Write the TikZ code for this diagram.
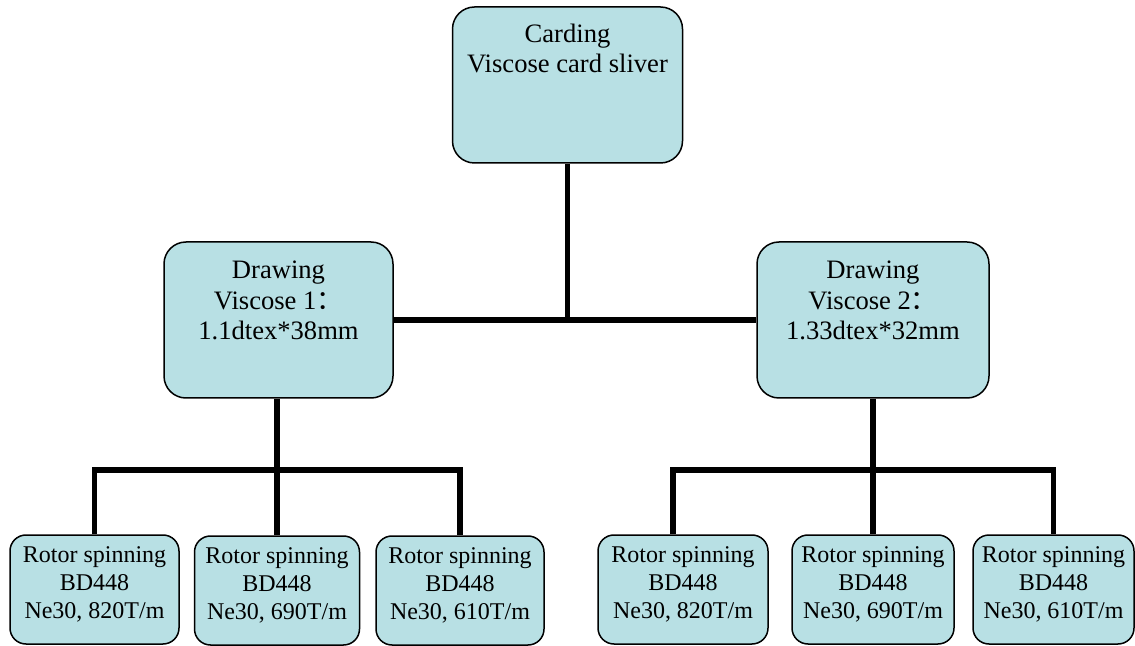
\documentclass[tikz,border=0pt]{standalone}
\usepackage{fontspec}
\setmainfont{Liberation Serif}
\newfontfamily\cjk{Noto Sans CJK SC}
\definecolor{stagefill}{RGB}{184,224,228}
\tikzset{
    stage/.style={draw,line width=0.75pt,fill=stagefill,rounded corners=11pt,align=center,
        inner xsep=2pt,inner ysep=0pt,font=\fontsize{13.3}{15.3}\selectfont,
        text height=49pt,text depth=29pt,minimum width=115pt},
    spin/.style={draw,line width=0.75pt,fill=stagefill,rounded corners=8pt,align=center,
        inner xsep=2pt,inner ysep=0pt,font=\fontsize{12}{13.8}\selectfont,
        text height=41.5pt,text depth=13pt},
    link/.style={line width=2.7pt}
}
\begin{document}
\begin{tikzpicture}[x=0.5pt,y=-0.5pt]
        \useasboundingbox (0,0) rectangle (1135,646);

        \node[stage,text height=33pt,text depth=45pt] (card) at (567.5,85) {Carding\\Viscose card sliver};
        \node[stage,minimum width=114.5pt] (d1) at (278.5,320) {Drawing\\Viscose 1{\cjk ：}\\1.1dtex*38mm};
        \node[stage,minimum width=116pt] (d2) at (873,320) {Drawing\\Viscose 2{\cjk ：}\\1.33dtex*32mm};

        \node[spin,minimum width=84.5pt] (s1) at (94.5,589.5) {Rotor spinning\\BD448\\Ne30, 820T/m};
        \node[spin,minimum width=82.5pt] (s2) at (277,590.5) {Rotor spinning\\BD448\\Ne30, 690T/m};
        \node[spin,minimum width=84pt] (s3) at (460,590.5) {Rotor spinning\\BD448\\Ne30, 610T/m};
        \node[spin,minimum width=85pt] (s4) at (683,589.5) {Rotor spinning\\BD448\\Ne30, 820T/m};
        \node[spin,minimum width=81pt] (s5) at (873,589.5) {Rotor spinning\\BD448\\Ne30, 690T/m};
        \node[spin,minimum width=80.5pt] (s6) at (1053.5,589.5) {Rotor spinning\\BD448\\Ne30, 610T/m};

        \coordinate (b1) at (277,470);
        \coordinate (b2) at (873,470);

        \draw[link] (card.south) -- (card.south |- d1.east);
        \draw[link] (d1.east) -- (d2.west);

        \draw[link] (d1.south -| s2.north) -- (s2.north);
        \draw[link] (s1.north) |- (b1) -| (s3.north);
        \draw[link] (d2.south) -- (s5.north);
        \draw[link] ([xshift=-5pt]s4.north) |- (b2) -| (s6.north);
\end{tikzpicture}
\end{document}
